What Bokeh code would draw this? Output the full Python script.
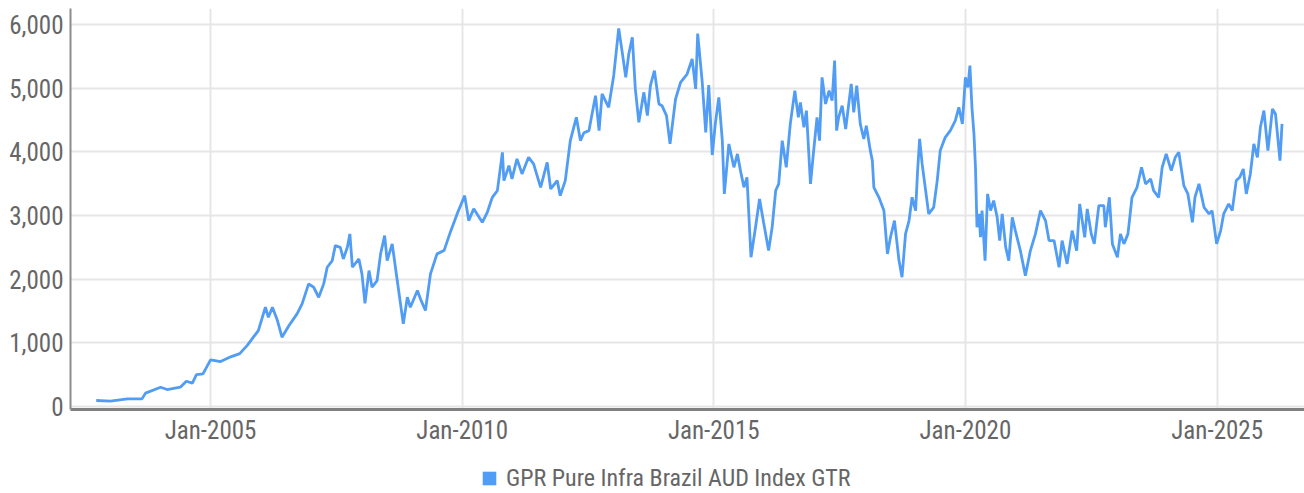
from datetime import datetime
from bokeh.plotting import figure
from bokeh.layouts import column
from bokeh.models import (Range1d, FixedTicker, DatetimeTickFormatter, NumeralTickFormatter,
                          ColumnDataSource, Legend, LegendItem)
from bokeh.embed import file_html
from bokeh.resources import INLINE

# ---- data (decimal year, index level) ----
years = [
    2002.73, 2003.01, 2003.35, 2003.64, 2003.71, 2004.01, 2004.14, 2004.40, 2004.52, 2004.64,
    2004.72, 2004.85, 2005.00, 2005.20, 2005.40, 2005.58, 2005.73, 2005.95, 2006.09, 2006.15,
    2006.23, 2006.33, 2006.42, 2006.56, 2006.72, 2006.82, 2006.95, 2007.05, 2007.15, 2007.25,
    2007.32, 2007.42, 2007.48, 2007.58, 2007.64, 2007.72, 2007.77, 2007.82, 2007.95, 2008.01,
    2008.07, 2008.15, 2008.21, 2008.31, 2008.38, 2008.46, 2008.51, 2008.61, 2008.71, 2008.83,
    2008.91, 2008.97, 2009.11, 2009.17, 2009.27, 2009.37, 2009.50, 2009.64, 2009.77, 2009.90,
    2010.05, 2010.13, 2010.23, 2010.40, 2010.50, 2010.60, 2010.70, 2010.80, 2010.83, 2010.93,
    2010.99, 2011.09, 2011.19, 2011.32, 2011.42, 2011.56, 2011.69, 2011.76, 2011.89, 2011.95,
    2012.05, 2012.15, 2012.27, 2012.35, 2012.42, 2012.52, 2012.55, 2012.65, 2012.72, 2012.78,
    2012.91, 2013.01, 2013.11, 2013.18, 2013.25, 2013.31, 2013.38, 2013.44, 2013.51, 2013.61,
    2013.68, 2013.74, 2013.82, 2013.91, 2013.97, 2014.06, 2014.13, 2014.24, 2014.34, 2014.47,
    2014.57, 2014.64, 2014.68, 2014.77, 2014.84, 2014.90, 2014.97, 2015.03, 2015.10, 2015.17,
    2015.21, 2015.30, 2015.40, 2015.47, 2015.53, 2015.60, 2015.66, 2015.74, 2015.83, 2015.91,
    2015.99, 2016.09, 2016.16, 2016.23, 2016.29, 2016.36, 2016.44, 2016.52, 2016.61, 2016.68,
    2016.72, 2016.79, 2016.84, 2016.92, 2016.99, 2017.05, 2017.10, 2017.15, 2017.22, 2017.29,
    2017.35, 2017.40, 2017.44, 2017.48, 2017.55, 2017.62, 2017.73, 2017.78, 2017.84, 2017.91,
    2017.98, 2018.03, 2018.11, 2018.15, 2018.18, 2018.28, 2018.38, 2018.45, 2018.51, 2018.59,
    2018.68, 2018.74, 2018.81, 2018.88, 2018.94, 2019.01, 2019.05, 2019.09, 2019.14, 2019.21,
    2019.27, 2019.37, 2019.44, 2019.50, 2019.60, 2019.70, 2019.80, 2019.87, 2019.94, 2020.00,
    2020.05, 2020.09, 2020.13, 2020.17, 2020.20, 2020.23, 2020.27, 2020.30, 2020.33, 2020.39,
    2020.44, 2020.50, 2020.56, 2020.63, 2020.68, 2020.73, 2020.80, 2020.86, 2020.93, 2020.99,
    2021.09, 2021.19, 2021.29, 2021.39, 2021.49, 2021.59, 2021.66, 2021.76, 2021.86, 2021.92,
    2022.02, 2022.12, 2022.21, 2022.27, 2022.37, 2022.42, 2022.50, 2022.56, 2022.65, 2022.75,
    2022.78, 2022.86, 2022.92, 2023.02, 2023.08, 2023.15, 2023.23, 2023.31, 2023.41, 2023.50,
    2023.58, 2023.68, 2023.74, 2023.84, 2023.91, 2023.99, 2024.09, 2024.17, 2024.24, 2024.34,
    2024.42, 2024.51, 2024.56, 2024.64, 2024.74, 2024.84, 2024.90, 2024.99, 2025.07, 2025.13,
    2025.23, 2025.30, 2025.38, 2025.45, 2025.52, 2025.58, 2025.66, 2025.73, 2025.80, 2025.86,
    2025.93, 2026.01, 2026.10, 2026.16, 2026.25, 2026.29,
]
values = [
    94, 85, 120, 120, 210, 303, 267, 303, 397, 366,
    502, 513, 733, 706, 780, 830, 960, 1193, 1559, 1402,
    1559, 1350, 1088, 1272, 1455, 1612, 1926, 1873, 1716, 1926,
    2187, 2292, 2527, 2500, 2318, 2500, 2711, 2187, 2318, 2083,
    1622, 2135, 1873, 1978, 2397, 2684, 2292, 2554, 1978, 1298,
    1716, 1559, 1821, 1691, 1507, 2083, 2397, 2449, 2750, 3025,
    3312, 2920, 3104, 2893, 3050, 3286, 3391, 3992, 3548, 3783,
    3574, 3888, 3653, 3914, 3810, 3443, 3835, 3417, 3548, 3312,
    3548, 4176, 4542, 4176, 4300, 4333, 4463, 4882, 4333, 4909,
    4699, 5196, 5939, 5562, 5170, 5536, 5797, 4988, 4463, 4934,
    4568, 5039, 5275, 4752, 4725, 4568, 4124, 4830, 5091, 5222,
    5458, 4988, 5856, 5100, 4306, 5050, 3950, 4438, 4856, 4176,
    3339, 4124, 3757, 3967, 3705, 3443, 3600, 2344, 2815, 3260,
    2893, 2449, 2815, 3391, 3496, 4176, 3757, 4438, 4961, 4542,
    4777, 4385, 4647, 3496, 4071, 4542, 4176, 5170, 4752, 4961,
    4804, 5433, 4333, 4542, 4725, 4359, 5066, 4621, 5039, 4438,
    4202, 4411, 4019, 3862, 3443, 3286, 3077, 2397, 2658, 2920,
    2292, 2030, 2711, 2920, 3286, 3077, 3705, 4202, 3810, 3391,
    3025, 3129, 3548, 4019, 4228, 4333, 4490, 4699, 4438, 5170,
    5013, 5353, 4699, 4280, 3757, 2815, 3025, 2658, 3077, 2292,
    3339, 3077, 3234, 2972, 2606, 3025, 2500, 2292, 2972, 2763,
    2449, 2056, 2449, 2711, 3077, 2920, 2606, 2606, 2187, 2606,
    2240, 2763, 2449, 3182, 2658, 3104, 2711, 2554, 3155, 3155,
    2815, 3286, 2554, 2344, 2711, 2554, 2711, 3286, 3443, 3757,
    3496, 3574, 3391, 3286, 3757, 3967, 3705, 3914, 3992, 3469,
    3339, 2893, 3286, 3496, 3129, 3025, 3077, 2554, 2763, 3025,
    3182, 3077, 3548, 3600, 3730, 3339, 3653, 4124, 3914, 4385,
    4647, 4019, 4673, 4595, 3862, 4438,
]
series_name = "GPR Pure Infra Brazil AUD Index GTR"
tick_years = [2005, 2010, 2015, 2020, 2025]
y_ticks = [0, 1000, 2000, 3000, 4000, 5000, 6000]


def to_dt(y):
    yr = int(y)
    start, end = datetime(yr, 1, 1), datetime(yr + 1, 1, 1)
    return start + (end - start) * (y - yr)


dates = [to_dt(y) for y in years]

FONT = "'Liberation Sans Narrow', 'Arial Narrow', 'Roboto Condensed', sans-serif"
TEXT = "#666666"
BLUE = "#519cf4"

# ---------------- main chart ----------------
p = figure(width=1304, height=448, x_axis_type="datetime",
           x_range=Range1d(to_dt(2002.218), to_dt(2026.737)),
           y_range=Range1d(-47, 6251),
           output_backend="svg", toolbar_location=None,
           min_border_left=70, min_border_right=0, min_border_top=8, min_border_bottom=39)
p.outline_line_color = None
p.background_fill_color = "white"
p.border_fill_color = "white"

src = ColumnDataSource(dict(x=dates, y=values))
p.line("x", "y", source=src, line_color=BLUE, line_width=2.8)

tick_ms = [datetime(y, 1, 1).timestamp() * 1000 for y in tick_years]
p.xaxis.ticker = FixedTicker(ticks=tick_ms)
p.xgrid.ticker = FixedTicker(ticks=tick_ms)
p.xaxis.formatter = DatetimeTickFormatter(years="%b-%Y", months="%b-%Y", days="%b-%Y")
p.yaxis.ticker = FixedTicker(ticks=y_ticks)
p.ygrid.ticker = FixedTicker(ticks=y_ticks)
p.yaxis.formatter = NumeralTickFormatter(format="0,0")

for ax in (p.xaxis, p.yaxis):
    ax.major_tick_line_color = None
    ax.minor_tick_line_color = None
    ax.major_tick_out = 0
    ax.major_tick_in = 0
    ax.minor_tick_out = 0
    ax.major_label_text_font = FONT
    ax.major_label_text_font_size = "25px"
    ax.major_label_text_color = TEXT
p.xaxis.axis_line_color = "#808080"
p.xaxis.axis_line_width = 3
p.yaxis.axis_line_color = "#8c8c8c"
p.yaxis.axis_line_width = 2
p.xaxis.major_label_standoff = 6
p.yaxis.major_label_standoff = 7

for g in (p.xgrid, p.ygrid):
    g.grid_line_color = "#e6e6e6"
    g.grid_line_width = 2

# ---------------- legend strip (frame is aligned with the chart frame) ----------------
lg = figure(width=1304, height=45, x_range=Range1d(0, 1), y_range=Range1d(0, 1),
            output_backend="svg", toolbar_location=None,
            x_axis_location=None, y_axis_location=None,
            min_border_left=0, min_border_right=0, min_border_top=0, min_border_bottom=0)
lg.outline_line_color = None
lg.xgrid.visible = False
lg.ygrid.visible = False
# swatch renderer: its only point lies outside the visible range, so only the legend shows it
sw = lg.scatter(x=[-5], y=[-5], marker="square", size=10, fill_color=BLUE, line_color=None)

legend = Legend(items=[LegendItem(label=series_name, renderers=[sw])],
                location=(402, -2), orientation="horizontal",
                padding=0, margin=0, spacing=0, border_line_color=None,
                background_fill_alpha=0, glyph_width=34, glyph_height=34,
                label_standoff=0, label_text_font=FONT, label_text_font_size="24px",
                label_text_color=TEXT)
lg.add_layout(legend)

layout = column(p, lg, spacing=0)
open("out.html", "w").write(file_html(layout, INLINE))
